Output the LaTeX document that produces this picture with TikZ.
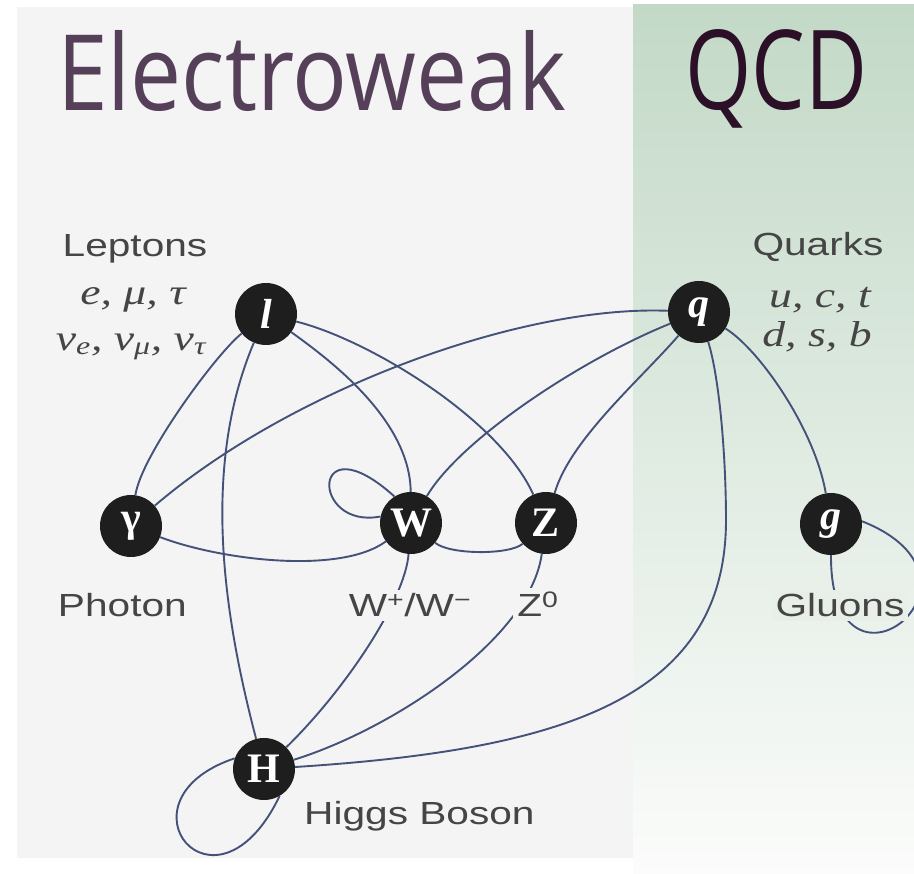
\documentclass[tikz,border=0pt]{standalone}
\usepackage{graphicx}
\usepackage{fontspec}
\setmainfont{Liberation Serif}
\newfontfamily\labfont{Liberation Sans}
\newfontfamily\ttlfont{Open Sans}
\definecolor{panelgray}{HTML}{F4F4F4}
\definecolor{greentop}{HTML}{C3D9C7}
\definecolor{greenmid}{HTML}{DDE9DE}
\definecolor{greenbot}{HTML}{FBFCFB}
\definecolor{greenlab}{HTML}{E7EFE8}
\definecolor{edgeblue}{HTML}{44527A}
\definecolor{nodeblack}{HTML}{1E1E1E}
\definecolor{labgray}{HTML}{454545}
\definecolor{ewcol}{HTML}{563F59}
\definecolor{qcdcol}{HTML}{2B1027}
\newcommand{\wideit}[1]{\scalebox{1.27}[1]{#1}}
\begin{document}
\begin{tikzpicture}[x=1pt,y=-1pt,
  particle/.style={circle,fill=nodeblack,minimum size=62pt,inner sep=0pt,text=white,
    font=\fontsize{42}{42}\selectfont\bfseries},
  lbl/.style={text=labgray,font=\labfont\fontsize{32}{36}\selectfont,inner sep=4pt},
  mlbl/.style={text=labgray,font=\itshape\fontsize{36}{40}\selectfont,inner sep=1pt},
  link/.style={draw=edgeblue,line width=1.9pt},
  ttl/.style={inner sep=0pt,anchor=base west}]
\useasboundingbox (0,0) rectangle (914,874);
\fill[white] (0,0) rectangle (914,874);
\fill[panelgray] (17,7) rectangle (634,858);
\shade[top color=greentop,middle color=greenmid,bottom color=greenbot] (633,5) rectangle (914,874);

% titles
\node[ttl,text=ewcol] (ew) at (57,111) {\resizebox{509pt}{80pt}{\ttlfont Electroweak}};
\node[ttl,text=qcdcol] (qcd) at (685,110) {\resizebox{182pt}{80pt}{\ttlfont QCD}};

% particles
\node[particle] (l) at (266,314) {\itshape l};
\node[particle] (q) at (699,312) {\itshape q};
\node[particle] (gam) at (131,526) {γ};
\node[particle] (W) at (411,523) {W};
\node[particle] (Z) at (546,523) {Z};
\node[particle] (g) at (831,524) {\itshape g};
\node[particle] (H) at (264,769) {H};

% connectors
\draw[link] (l) .. controls (216,354) and (141,456) .. (gam);
\draw[link] (l) .. controls (200,470) and (225,620) .. (H);
\draw[link] (l) .. controls (330,360) and (410,420) .. (W);
\draw[link] (l) .. controls (370,340) and (500,420) .. (Z);
\draw[link] (q) .. controls (520,305) and (290,390) .. (gam);
\draw[link] (q) .. controls (580,360) and (460,440) .. (W);
\draw[link] (q) .. controls (640,380) and (570,440) .. (Z);
\draw[link] (q) .. controls (760,350) and (815,430) .. (g);
\draw[link] (q) .. controls (720,380) and (726,460) .. (726,520) .. controls (726,700) and (560,750) .. (H);
\draw[link] (gam) .. controls (220,560) and (340,575) .. (W);
\draw[link] (W) .. controls (450,555) and (510,555) .. (Z);
\draw[link] (W) .. controls (405,600) and (345,690) .. (H);
\draw[link] (Z) .. controls (530,640) and (390,730) .. (H);
\draw[link] (H.160) .. controls (110,800) and (215,930) .. (H.-60);
\draw[link] (W.168) .. controls (310,530) and (310,420) .. (W.122);
\draw[link] (g.-90) .. controls (830,720) and (1010,580) .. (g.5);

% labels
\node[lbl,anchor=base] (lep) at (135,257) {\wideit{Leptons}};
\node[mlbl,anchor=base] (lep1) at (133,305) {\wideit{e, μ, τ}};
\node[mlbl,anchor=base] (lep2) at (131,351) {\wideit{ν\textsubscript{e}, ν\textsubscript{μ}, ν\textsubscript{τ}}};
\node[lbl,anchor=base] (qua) at (818,256) {\wideit{Quarks}};
\node[mlbl,anchor=base] (qua1) at (820,308) {\wideit{u, c, t}};
\node[mlbl,anchor=base] (qua2) at (817,347) {\wideit{d, s, b}};
\node[lbl,anchor=base east,fill=panelgray] (pho) at (191,617) {\wideit{Photon}};
\node[lbl,anchor=base,fill=panelgray] (wlab) at (410,617) {\wideit{W\textsuperscript{+}/W\textsuperscript{−}}};
\node[lbl,anchor=base,fill=panelgray] (zlab) at (538,617) {\wideit{Z\textsuperscript{0}}};
\node[lbl,anchor=base,fill=greenlab] (glu) at (840,617) {\wideit{Gluons}};
\node[lbl,anchor=base west] (hig) at (300,824) {\wideit{Higgs Boson}};
\end{tikzpicture}
\end{document}
